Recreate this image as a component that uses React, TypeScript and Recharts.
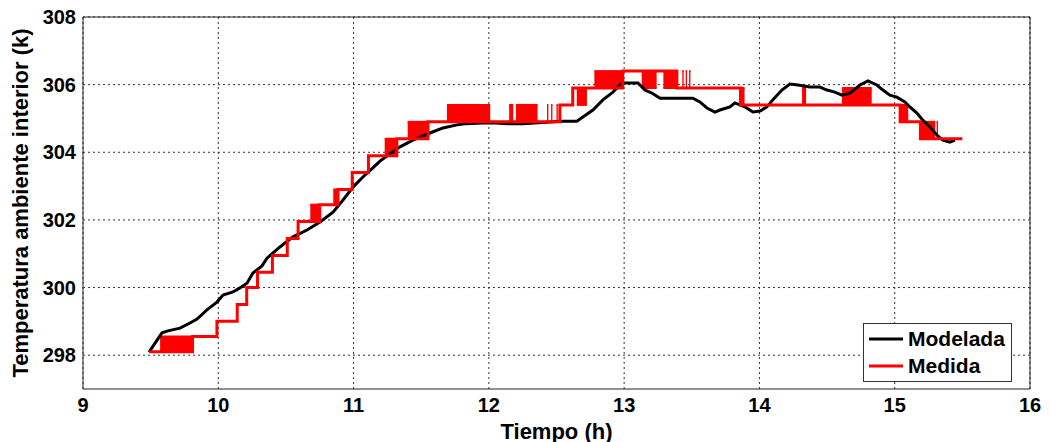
import React from 'react';
import {
  ComposedChart,
  Line,
  Area,
  XAxis,
  YAxis,
  CartesianGrid,
  Legend,
  ReferenceArea,
} from 'recharts';

// ---------- tick labels ----------
const timeTicks = [9, 10, 11, 12, 13, 14, 15, 16];
const tempTicks = [298, 300, 302, 304, 306, 308];
const legendOrder = ['Modelada', 'Medida'];

// ---------- Modelada (black) ----------
const modeladaTime = [
  9.488, 9.584, 9.628, 9.717, 9.791, 9.843, 9.916, 9.99, 10.035, 10.109, 10.16,
  10.212, 10.256, 10.323, 10.36, 10.456, 10.552, 10.656, 10.752, 10.848, 10.922,
  10.996, 11.069, 11.143, 11.195, 11.343, 11.439, 11.565, 11.661, 11.764, 11.823,
  12.008, 12.141, 12.252, 12.54, 12.651, 12.695, 12.769, 12.843, 12.917, 12.969,
  12.991, 13.102, 13.154, 13.205, 13.265, 13.508, 13.56, 13.612, 13.671, 13.708,
  13.782, 13.819, 13.893, 13.952, 14.004, 14.055, 14.1, 14.166, 14.225, 14.285,
  14.373, 14.447, 14.499, 14.558, 14.61, 14.669, 14.743, 14.802, 14.868, 14.913,
  14.964, 15.016, 15.075, 15.112, 15.164, 15.208, 15.26, 15.312, 15.356, 15.408,
  15.445,
];
const modeladaTemp = [
  298.09, 298.66, 298.72, 298.8, 298.95, 299.07, 299.34, 299.57, 299.78, 299.87,
  299.99, 300.13, 300.43, 300.64, 300.87, 301.2, 301.5, 301.7, 301.94, 302.23,
  302.59, 302.97, 303.27, 303.54, 303.74, 304.16, 304.36, 304.57, 304.72, 304.81,
  304.84, 304.87, 304.84, 304.84, 304.92, 304.92, 305.04, 305.25, 305.55, 305.78,
  305.99, 306.05, 306.05, 305.84, 305.75, 305.6, 305.6, 305.49, 305.31, 305.19,
  305.25, 305.34, 305.46, 305.34, 305.19, 305.22, 305.34, 305.55, 305.84, 306.02,
  305.99, 305.93, 305.93, 305.84, 305.78, 305.69, 305.75, 305.99, 306.11, 305.99,
  305.84, 305.69, 305.63, 305.49, 305.34, 305.16, 304.95, 304.75, 304.51, 304.36,
  304.3, 304.36,
];

// ---------- Medida (red), quantised steps ----------
const medidaTime = [
  9.49, 9.81, 9.99, 10.14, 10.21, 10.29, 10.4, 10.51, 10.59, 10.75, 10.885, 10.99,
  11.11, 11.32, 11.55, 12.525, 12.62, 12.99, 13.39, 13.86, 15.04, 15.19, 15.5,
];
const medidaTemp = [
  298.1, 298.55, 299.0, 299.5, 300.0, 300.45, 300.95, 301.45, 301.95, 302.45,
  302.9, 303.4, 303.9, 304.4, 304.9, 305.4, 305.9, 306.4, 305.9, 305.4, 304.9,
  304.4, 304.4,
];

// ---------- Medida chatter (rapid toggling between two levels) ----------
const chatterStart = [
  9.57, 10.68, 10.85, 11.23, 11.4, 11.69, 12.15, 12.2, 12.43, 12.46, 12.5, 12.65,
  12.78, 13.13, 13.29, 13.43, 13.455, 13.48, 13.86, 14.315, 14.61, 15.04, 15.19,
  15.31,
];
const chatterEnd = [
  9.81, 10.75, 10.885, 11.32, 11.55, 12.01, 12.18, 12.36, 12.44, 12.47, 12.51,
  12.725, 12.99, 13.24, 13.39, 13.44, 13.465, 13.49, 13.89, 14.345, 14.83, 15.1,
  15.3, 15.32,
];
const chatterLow = [
  298.1, 301.95, 302.45, 303.9, 304.4, 304.9, 304.9, 304.9, 304.9, 304.9, 304.9,
  305.4, 305.9, 305.9, 305.9, 305.9, 305.9, 305.9, 305.4, 305.4, 305.4, 304.9,
  304.4, 304.4,
];
const chatterHigh = [
  298.55, 302.45, 302.9, 304.4, 304.9, 305.4, 305.4, 305.4, 305.4, 305.4, 305.4,
  305.9, 306.4, 306.4, 306.4, 306.4, 306.4, 306.4, 305.9, 305.9, 305.9, 305.4,
  304.9, 304.9,
];

const modelada = modeladaTime.map((t, i) => ({ t, v: modeladaTemp[i] }));
const medida = medidaTime.map((t, i) => ({ t, v: medidaTemp[i] }));
const chatter = chatterStart.map((s, i) => [
  { t: s, r: [chatterLow[i], chatterHigh[i]] },
  { t: chatterEnd[i], r: [chatterLow[i], chatterHigh[i]] },
]);

const FONT = '"Liberation Sans", Arial, Helvetica, sans-serif';
const RED = '#ff0000';

const renderLegend = (props: any) => {
  const items = (props.payload || [])
    .filter((p: any) => p.type !== 'none' && legendOrder.includes(p.value))
    .sort((a: any, b: any) => legendOrder.indexOf(a.value) - legendOrder.indexOf(b.value));
  return (
    <div
      style={{
        border: '1px solid #333',
        background: '#fff',
        width: 149,
        height: 59,
        paddingTop: 1,
        boxSizing: 'border-box',
        fontFamily: FONT,
        fontSize: 21,
        fontWeight: 'bold',
        color: '#000',
      }}
    >
      {items.map((it: any) => (
        <div
          key={it.value}
          style={{ display: 'flex', alignItems: 'center', height: 27, marginLeft: 5 }}
        >
          <svg width={34} height={6} style={{ display: 'block' }}>
            <line x1={0} x2={34} y1={3} y2={3} stroke={it.color} strokeWidth={3} />
          </svg>
          <span style={{ marginLeft: 5, lineHeight: '27px' }}>{it.value}</span>
        </div>
      ))}
    </div>
  );
};

const YLabel = (props: any) => {
  const vb = props.viewBox;
  const x = vb.x - 13;
  const y = vb.y + vb.height / 2;
  return (
    <text
      x={x}
      y={y}
      transform={`rotate(-90 ${x} ${y})`}
      textAnchor="middle"
      dominantBaseline="central"
      fontFamily={FONT}
      fontSize={22}
      fontWeight="bold"
      fill="#000"
    >
      Temperatura ambiente interior (k)
    </text>
  );
};

const XLabel = (props: any) => {
  const vb = props.viewBox;
  const x = vb.x + vb.width / 2;
  const y = vb.y + 42;
  return (
    <text
      x={x}
      y={y}
      textAnchor="middle"
      dominantBaseline="central"
      fontFamily={FONT}
      fontSize={22}
      fontWeight="bold"
      fill="#000"
    >
      Tiempo (h)
    </text>
  );
};

const tickStyle = { fontFamily: FONT, fontSize: 20, fontWeight: 'bold', fill: '#000' };

export default function App() {
  return (
    <div style={{ position: 'absolute', left: 0, top: 0, background: '#fff' }}>
      <ComposedChart
        width={1051}
        height={442}
        margin={{ top: 17, right: 21, bottom: 23, left: 33 }}
      >
        <CartesianGrid
          stroke="#333"
          strokeDasharray="2 3"
          strokeWidth={1}
          horizontalValues={tempTicks}
          verticalValues={timeTicks}
        />
        <XAxis
          type="number"
          dataKey="t"
          domain={[9, 16]}
          ticks={timeTicks}
          allowDataOverflow
          height={30}
          axisLine={false}
          tickLine={false}
          tickSize={7}
          tickMargin={2}
          tick={tickStyle}
          label={<XLabel />}
        />
        <YAxis
          type="number"
          domain={[297, 308]}
          ticks={tempTicks}
          allowDataOverflow
          width={50}
          axisLine={false}
          tickLine={false}
          tickSize={5}
          tickMargin={2}
          tick={tickStyle}
          label={<YLabel />}
        />
        <ReferenceArea
          x1={9}
          x2={16}
          y1={297}
          y2={308}
          fill="none"
          fillOpacity={0}
          stroke="#222"
          strokeWidth={1}
          ifOverflow="visible"
        />
        <Line
          data={modelada}
          dataKey="v"
          name="Modelada"
          type="linear"
          stroke="#000"
          strokeWidth={3}
          dot={false}
          isAnimationActive={false}
        />
        <Line
          data={medida}
          dataKey="v"
          name="Medida"
          type="stepAfter"
          stroke={RED}
          strokeWidth={3}
          dot={false}
          isAnimationActive={false}
        />
        {chatter.map((d, i) => (
          <Area
            key={'c' + i}
            data={d}
            dataKey="r"
            type="linear"
            stroke={RED}
            strokeWidth={2}
            fill={RED}
            fillOpacity={1}
            dot={false}
            activeDot={false}
            legendType="none"
            isAnimationActive={false}
          />
        ))}
        <Legend
          layout="vertical"
          align="center"
          verticalAlign="middle"
          content={renderLegend}
          wrapperStyle={{ left: 863, top: 323, width: 149, height: 59 }}
        />
      </ComposedChart>
    </div>
  );
}
